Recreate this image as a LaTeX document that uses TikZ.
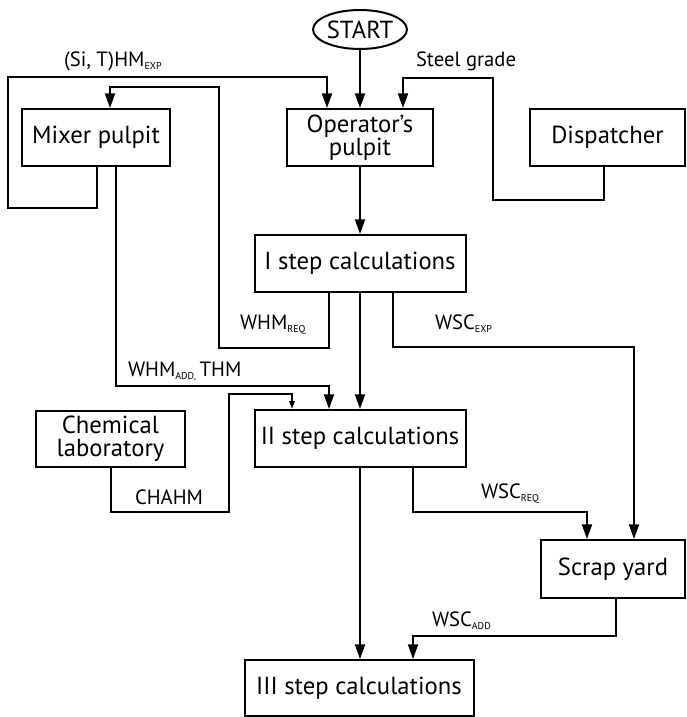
\documentclass[tikz,border=0pt]{standalone}
\usepackage{fontspec}
\setmainfont{PT Sans}
\usetikzlibrary{arrows.meta,shapes.geometric}

\newcommand{\lowidx}[1]{\raisebox{-2.5pt}{\fontsize{7.5}{8}\selectfont #1}}

\tikzset{every picture/.style={line width=1.5pt}}
\tikzset{
  block/.style={draw, rectangle, align=center, inner sep=0pt, font=\fontsize{18.5}{17.5}\selectfont},
  flowlbl/.style={anchor=base west, inner sep=0pt, font=\fontsize{15.5}{16}\selectfont},
  bigtip/.style={-{Triangle[length=11pt,width=7.5pt]}},
  smalltip/.style={-{Triangle[length=6pt,width=4pt]}}
}

\begin{document}
\begin{tikzpicture}[x=0.75pt,y=0.75pt,yscale=-1,xscale=1]
\useasboundingbox (0,0) rectangle (686,717);

%Shape: Ellipse
\node[draw, ellipse, inner sep=0pt, minimum width=63.75pt, minimum height=29.25pt, font=\fontsize{18.5}{16}\selectfont] (start) at (360,29.5) {START};
%Shape: Rectangle
\node[block, minimum width=111pt, minimum height=42.75pt] (mixer) at (96,137.5) {Mixer pulpit};
%Shape: Rectangle
\node[block, minimum width=109.5pt, minimum height=42.75pt] (oper) at (360,137.5) {Operator's\\pulpit};
%Shape: Rectangle
\node[block, minimum width=116.25pt, minimum height=42.75pt] (disp) at (607.5,137.5) {Dispatcher};
%Shape: Rectangle
\node[block, minimum width=158.25pt, minimum height=42.75pt] (step1) at (360,263.5) {I step calculations};
%Shape: Rectangle
\node[block, minimum width=111.75pt, minimum height=42pt] (chem) at (110.5,439) {Chemical\\laboratory};
%Shape: Rectangle
\node[block, minimum width=158.25pt, minimum height=42.75pt] (step2) at (360,438.5) {II step calculations};
%Shape: Rectangle
\node[block, minimum width=108pt, minimum height=43.5pt] (scrap) at (613,569) {Scrap yard};
%Shape: Rectangle
\node[block, minimum width=171.75pt, minimum height=42pt] (step3) at (359,688) {III step calculations};

%Bend points
\coordinate (hmexp) at (97,208);
\coordinate (hmin) at (327,77);
\coordinate (whmreq) at (329,348);
\coordinate (whmin) at (110,87);
\coordinate (sg) at (604,200);
\coordinate (sgin) at (403,78);
\coordinate (whmadd) at (116,386);
\coordinate (whmaddin) at (329,386);
\coordinate (cha) at (111,512);
\coordinate (chain) at (292,394);
\coordinate (wscexp) at (393,347);
\coordinate (wscexpin) at (634,347);
\coordinate (wscreq) at (413,512);
\coordinate (wscreqin) at (587,512);
\coordinate (wscadd) at (616,636);
\coordinate (wscaddin) at (413,636);

%Straight Lines
\draw[bigtip] (start.south) -- (oper.north);
\draw[bigtip] (mixer.south -| hmexp) -- (hmexp) -| (8,77) -- (hmin) -- (oper.north -| hmin);
\draw[bigtip] (step1.south -| whmreq) -- (whmreq) -| (219,87) -- (whmin) -- (mixer.north -| whmin);
\draw[bigtip] (disp.south -| sg) -- (sg) -| (493,78) -- (sgin) -- (oper.north -| sgin);
\draw[bigtip] (oper.south) -- (step1.north);
\draw[bigtip] (step1.south) -- (step2.north);
\draw[bigtip] (mixer.south -| whmadd) -- (whmadd) -- (whmaddin) -- (step2.north -| whmaddin);
\draw[smalltip] (chem.south -| cha) -- (cha) -| (229,394) -- (chain) -- (step2.north -| chain);
\draw[bigtip] (step1.south -| wscexp) -- (wscexp) -- (wscexpin) -- (scrap.north -| wscexpin);
\draw[bigtip] (step2.south -| wscreq) -- (wscreq) -- (wscreqin) -- (scrap.north -| wscreqin);
\draw[bigtip] (step2.south) -- (step3.north -| step2.south);
\draw[bigtip] (scrap.south -| wscadd) -- (wscadd) -- (wscaddin) -- (step3.north -| wscaddin);

% Text Node
\node[flowlbl] (lblhmexp) at (63,66) {(Si, T)HM\lowidx{EXP}};
% Text Node
\node[flowlbl] (lblgrade) at (415,66) {Steel grade};
% Text Node
\node[flowlbl] (lblwhmreq) at (239,329) {WHM\lowidx{REQ}};
% Text Node
\node[flowlbl] (lblwhmadd) at (127,376) {WHM\lowidx{ADD,}\,THM};
% Text Node
\node[flowlbl] (lblwscexp) at (434,329) {WSC\lowidx{EXP}};
% Text Node
\node[flowlbl] (lblchahm) at (134,504) {CHAHM};
% Text Node
\node[flowlbl] (lblwscreq) at (480,498) {WSC\lowidx{REQ}};
% Text Node
\node[flowlbl] (lblwscadd) at (431,626) {WSC\lowidx{ADD}};

\end{tikzpicture}
\end{document}
